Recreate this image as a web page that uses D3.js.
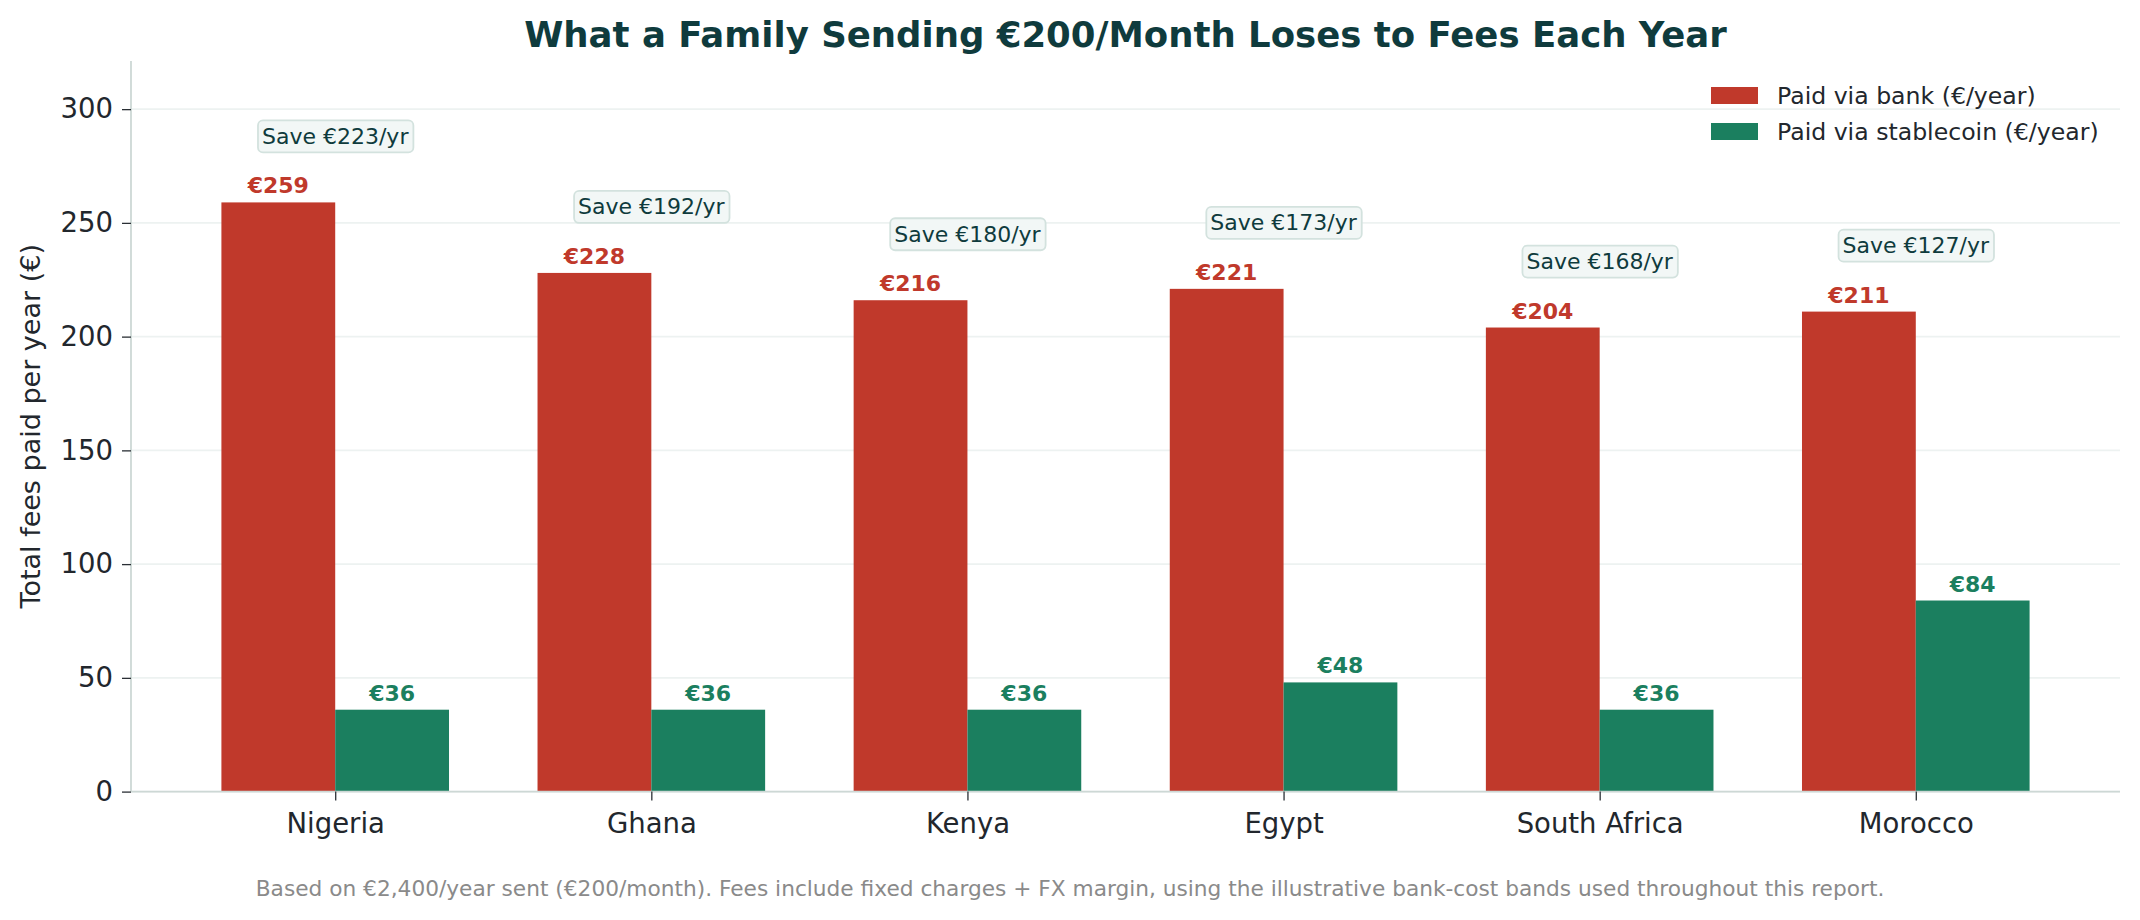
<!DOCTYPE html>
<html>
<head>
<meta charset="utf-8">
<script src="https://cdn.jsdelivr.net/npm/d3@7"></script>
<style>
  html, body { margin: 0; padding: 0; background: #fff; }
  svg { display: block; font-family: "DejaVu Sans", sans-serif; }
</style>
</head>
<body>
<div id="chart"></div>
<script>
// data
const countries = ["Nigeria", "Ghana", "Kenya", "Egypt", "South Africa", "Morocco"];
const bankFees = [259, 228, 216, 221, 204, 211];
const stableFees = [36, 36, 36, 48, 36, 84];
const savings = [223, 192, 180, 173, 168, 127];
const yTicks = [0, 50, 100, 150, 200, 250, 300];
const seriesNames = ["Paid via bank (€/year)", "Paid via stablecoin (€/year)"];

const width = 2140, height = 920;
const margin = { top: 61, right: 20, bottom: 128.4, left: 131 };

const bankRed = "#c0392b";
const stableGreen = "#1b7f5f";
const darkTeal = "#0f3b3d";

const svg = d3.select("#chart")
  .append("svg")
  .attr("width", width)
  .attr("height", height);

// Scales
const xScale = d3.scalePoint()
  .domain(countries)
  .range([margin.left, width - margin.right])
  .padding(0.646);

const barW = xScale.step() * 0.36;

const yScale = d3.scaleLinear()
  .domain([0, d3.max(bankFees) * 1.24])
  .range([height - margin.bottom, margin.top]);

// Gridlines (behind the bars)
svg.append("g")
  .attr("class", "grid")
  .selectAll("line")
  .data(yTicks)
  .join("line")
    .attr("x1", margin.left)
    .attr("x2", width - margin.right)
    .attr("y1", d => yScale(d))
    .attr("y2", d => yScale(d))
    .attr("stroke", "#edf2f1")
    .attr("stroke-width", 1.6);

// Bars
const rows = countries.map((c, i) => ({
  country: c, bank: bankFees[i], stable: stableFees[i], save: savings[i]
}));

const group = svg.selectAll("g.country")
  .data(rows)
  .join("g")
    .attr("class", "country")
    .attr("transform", d => `translate(${xScale(d.country)},0)`);

group.append("rect")
  .attr("x", -barW)
  .attr("y", d => yScale(d.bank))
  .attr("width", barW)
  .attr("height", d => yScale(0) - yScale(d.bank))
  .attr("fill", bankRed);

group.append("rect")
  .attr("x", 0)
  .attr("y", d => yScale(d.stable))
  .attr("width", barW)
  .attr("height", d => yScale(0) - yScale(d.stable))
  .attr("fill", stableGreen);

// value labels
group.append("text")
  .text(d => `€${d.bank}`)
  .attr("x", -barW / 2)
  .attr("y", d => yScale(d.bank) - 9)
  .attr("text-anchor", "middle")
  .attr("font-size", 22)
  .attr("font-weight", "bold")
  .attr("fill", bankRed);

group.append("text")
  .text(d => `€${d.stable}`)
  .attr("x", barW / 2)
  .attr("y", d => yScale(d.stable) - 9)
  .attr("text-anchor", "middle")
  .attr("font-size", 22)
  .attr("font-weight", "bold")
  .attr("fill", stableGreen);

// "Save" boxes above each pair
const saveGroup = group.append("g")
  .attr("transform", d => `translate(0, ${yScale(d.bank + 29)})`);

saveGroup.append("rect")
  .attr("fill", "#f2f7f6")
  .attr("stroke", "#d3e2de")
  .attr("stroke-width", 1.8)
  .attr("rx", 5);

saveGroup.append("text")
  .text(d => `Save €${d.save}/yr`)
  .attr("text-anchor", "middle")
  .attr("dominant-baseline", "central")
  .attr("font-size", 22)
  .attr("fill", darkTeal);

saveGroup.each(function() {
  const g = d3.select(this);
  const bb = g.select("text").node().getBBox();
  g.select("rect")
    .attr("x", bb.x - 4)
    .attr("y", -16)
    .attr("width", bb.width + 8)
    .attr("height", 32);
});

// Axes
const yAxis = svg.append("g")
  .attr("transform", `translate(${margin.left},0)`)
  .call(d3.axisLeft(yScale).tickValues(yTicks).tickSize(9).tickPadding(9));

const xAxis = svg.append("g")
  .attr("transform", `translate(0,${yScale(0)})`)
  .call(d3.axisBottom(xScale).tickSize(9).tickPadding(13));

[yAxis, xAxis].forEach(ax => {
  ax.select(".domain").attr("stroke", "#cdd8d5").attr("stroke-width", 1.8);
  ax.selectAll(".tick line").attr("stroke", "#2a2f35").attr("stroke-width", 1.3);
  ax.selectAll(".tick text")
    .attr("font-family", "DejaVu Sans")
    .attr("font-size", 27.5)
    .attr("fill", "#22272d");
});
// keep the spines to the plot area
xAxis.select(".domain").attr("d", `M${margin.left},0H${width - margin.right}`);
yAxis.select(".domain").attr("d", `M0,${margin.top}V${yScale(0)}`);

// Axis label
svg.append("text")
  .text("Total fees paid per year (€)")
  .attr("transform", `translate(40, ${(margin.top + yScale(0)) / 2}) rotate(-90)`)
  .attr("text-anchor", "middle")
  .attr("font-size", 27)
  .attr("fill", "#22272d");

// Title
svg.append("text")
  .text("What a Family Sending €200/Month Loses to Fees Each Year")
  .attr("x", (margin.left + width - margin.right) / 2)
  .attr("y", 47)
  .attr("text-anchor", "middle")
  .attr("font-size", 35.5)
  .attr("font-weight", "bold")
  .attr("fill", darkTeal);

// Legend
const legend = svg.append("g")
  .attr("transform", `translate(1711, 95.5)`);

const legendItems = legend.selectAll("g")
  .data(seriesNames)
  .join("g")
    .attr("transform", (d, i) => `translate(0, ${i * 36})`);

legendItems.append("rect")
  .attr("x", 0)
  .attr("y", -8.5)
  .attr("width", 47)
  .attr("height", 17)
  .attr("fill", (d, i) => i === 0 ? bankRed : stableGreen);

legendItems.append("text")
  .text(d => d)
  .attr("x", 66)
  .attr("dominant-baseline", "central")
  .attr("font-size", 23.6)
  .attr("fill", "#22272d");

// Footnote
svg.append("text")
  .text("Based on €2,400/year sent (€200/month). Fees include fixed charges + FX margin, using the illustrative bank-cost bands used throughout this report.")
  .attr("x", width / 2)
  .attr("y", 896)
  .attr("text-anchor", "middle")
  .attr("font-size", 21.7)
  .attr("fill", "#8a8a8a");
</script>
</body>
</html>
